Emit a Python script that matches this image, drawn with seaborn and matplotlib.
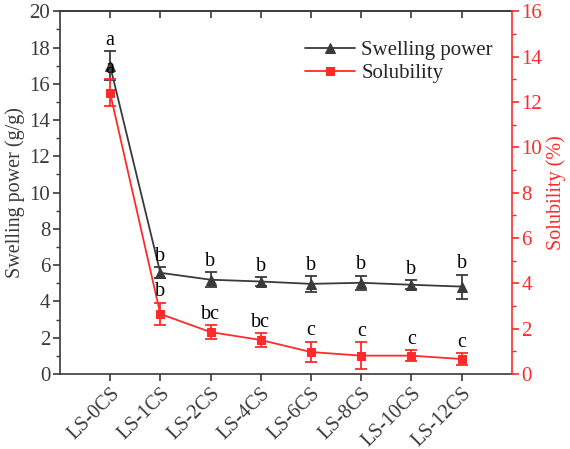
import numpy as np
import pandas as pd
import matplotlib
matplotlib.use("Agg")
import matplotlib.pyplot as plt
import seaborn as sns
from matplotlib.ticker import MultipleLocator

samples = ["LS-0CS", "LS-1CS", "LS-2CS", "LS-4CS", "LS-6CS", "LS-8CS", "LS-10CS", "LS-12CS"]
swelling = [17.0, 5.58, 5.2, 5.1, 4.97, 5.03, 4.92, 4.82]
swelling_err = [0.8, 0.3, 0.4, 0.23, 0.43, 0.38, 0.25, 0.66]
swelling_letters = ["a", "b", "b", "b", "b", "b", "b", "b"]
solubility = [12.4, 2.65, 1.85, 1.5, 0.97, 0.81, 0.81, 0.66]
solubility_err = [0.6, 0.5, 0.3, 0.3, 0.45, 0.6, 0.25, 0.27]
solubility_letters = ["a", "b", "bc", "bc", "c", "c", "c", "c"]

grey = "#3a3a3a"
red = "#ff2a2a"

sns.set_style("ticks")
plt.rcParams["font.family"] = ["Liberation Serif", "DejaVu Serif"]
plt.rcParams["font.size"] = 14

df = pd.DataFrame({"pos": np.arange(len(samples)), "sample": samples,
                   "swelling": swelling, "solubility": solubility})

fig = plt.figure(figsize=(5.7, 4.49), dpi=100)
ax = fig.add_axes([0.105, 0.167, 0.793, 0.808])
ax2 = ax.twinx()

sns.lineplot(data=df, x="pos", y="swelling", ax=ax, color=grey, marker="^",
             markersize=7, markeredgecolor=grey, lw=1.3, label="Swelling power", legend=False)
ax.errorbar(df["pos"], df["swelling"], yerr=swelling_err, fmt="none",
            ecolor=grey, elinewidth=1.3, capsize=4, capthick=1.3)
sns.lineplot(data=df, x="pos", y="solubility", ax=ax2, color=red, marker="s",
             markersize=6, markeredgecolor=red, lw=1.3, label="Solubility", legend=False)
ax2.errorbar(df["pos"], df["solubility"], yerr=solubility_err, fmt="none",
             ecolor=red, elinewidth=1.3, capsize=4, capthick=1.3)

for x, y, e, t in zip(df["pos"], swelling, swelling_err, swelling_letters):
    ax.annotate(t, (x, y + e), xytext=(0, 1), textcoords="offset points",
                ha="center", va="bottom", fontsize=14.5, color="black")
for x, y, e, t in zip(df["pos"], solubility, solubility_err, solubility_letters):
    ax2.annotate(t, (x, y + e), xytext=(0, 1), textcoords="offset points",
                 ha="center", va="bottom", fontsize=14.5, color="black")

ax.set_xlim(-1, 8)
ax.set_ylim(0, 20)
ax2.set_ylim(0, 16)
ax.set_xticks(df["pos"])
ax.set_xticklabels(samples, rotation=45, ha="right", rotation_mode="anchor")
ax.yaxis.set_major_locator(MultipleLocator(2))
ax.yaxis.set_minor_locator(MultipleLocator(1))
ax2.yaxis.set_major_locator(MultipleLocator(2))
ax2.yaxis.set_minor_locator(MultipleLocator(1))

ax.set_xlabel("")
ax.set_ylabel("Swelling power (g/g)", color=grey, fontsize=14.5, labelpad=3)
ax2.set_ylabel("Solubility (%)", color=red, fontsize=14.5, labelpad=3)

ax.tick_params(axis="both", labelsize=15, colors=grey, width=1.2, length=5, pad=2)
ax.tick_params(axis="x", labelsize=14.5)
ax.tick_params(axis="y", which="minor", length=3, width=1.0, colors=grey)
ax2.tick_params(axis="y", labelsize=15, colors=red, width=1.2, length=5, pad=2)
ax2.tick_params(axis="y", which="minor", length=3, width=1.0, colors=red)

top = ax.secondary_xaxis("top")
top.set_xticks(df["pos"])
top.tick_params(direction="in", labeltop=False, colors=grey, width=1.2, length=5)
top.spines["top"].set_color(grey)
top.spines["top"].set_linewidth(1.2)

for s in ["left", "bottom", "top"]:
    ax.spines[s].set_color(grey)
    ax.spines[s].set_linewidth(1.2)
ax2.spines["right"].set_color(red)
ax2.spines["right"].set_linewidth(1.2)
ax2.spines["top"].set_visible(False)
ax2.spines["left"].set_visible(False)
ax2.spines["bottom"].set_visible(False)
ax.spines["right"].set_visible(False)

h1, l1 = ax.get_legend_handles_labels()
h2, l2 = ax2.get_legend_handles_labels()
ax.legend(h1 + h2, l1 + l2, loc="upper right", bbox_to_anchor=(1.0, 0.97),
          frameon=False, fontsize=15, handlelength=2.4, labelspacing=0.15,
          handletextpad=0.3)

fig.savefig("out.png", dpi=100)
